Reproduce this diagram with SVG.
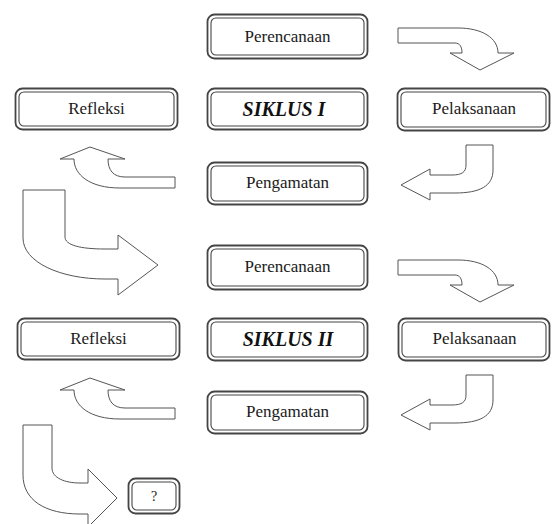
<svg xmlns="http://www.w3.org/2000/svg" width="552" height="524" viewBox="0 0 552 524">
<style>
.bo{fill:#fff;stroke:#454545;stroke-width:1.8}
.bi{fill:none;stroke:#454545;stroke-width:1.1}
.t{font-family:'Liberation Serif','DejaVu Serif',serif;font-size:17px;fill:#1a1a1a;text-anchor:middle}
.s{font-family:'Liberation Serif','DejaVu Serif',serif;font-size:20px;font-weight:bold;font-style:italic;fill:#111;text-anchor:middle}
.a{fill:#fff;stroke:#555;stroke-width:1;stroke-linejoin:miter}
</style>
<rect width="552" height="524" fill="#fff"/>
<g id="connectors">
<path id="a1" class="a" d="M398,28 L458,28 C482,28 498,38 498,53 L514,53 L480,70 L450,53 L462,53 C462,47 460,43 455,43 L398,43 Z"/>
<path id="a2" class="a" d="M466,145 L493,145 L493,170 C493,186 480,193 455,193 L430,193 L430,200 L401,185 L430,169 L430,175 L452,175 C462,175 466,172 466,165 Z"/>
<path id="a3" class="a" d="M90,147 L125,159 L108,159 C108,170 113,177 125,177 L175,177 L175,188 L120,188 C90,188 74,175 74,159 L60,159 Z"/>
<path id="a4" class="a" d="M23,190 L65,190 L65,237 C65,245 80,249 105,249 L118,249 L118,235 L158,265 L118,295 L118,279 L105,279 C60,279 23,262 23,238 Z"/>
<path id="a5" class="a" transform="translate(0,232)" d="M398,28 L458,28 C482,28 498,38 498,53 L514,53 L480,70 L450,53 L462,53 C462,47 460,43 455,43 L398,43 Z"/>
<path id="a6" class="a" transform="translate(0,230)" d="M466,145 L493,145 L493,170 C493,186 480,193 455,193 L430,193 L430,200 L401,185 L430,169 L430,175 L452,175 C462,175 466,172 466,165 Z"/>
<path id="a7" class="a" transform="translate(0,231)" d="M90,147 L125,159 L108,159 C108,170 113,177 125,177 L175,177 L175,188 L120,188 C90,188 74,175 74,159 L60,159 Z"/>
<path id="a8" class="a" d="M23,425 L52,425 L52,468 C52,478 65,483 80,483 L88,483 L88,469 L117,498 L88,527 L88,514 L80,514 C45,514 23,500 23,475 Z"/>
</g>
<g id="perencanaan1">
<rect class="bo" x="207.5" y="14.5" width="160" height="44" rx="7"/>
<rect class="bi" x="211" y="18" width="153" height="37" rx="5"/>
<text class="t" x="287.5" y="42">Perencanaan</text>
</g>
<g id="refleksi1">
<rect class="bo" x="15.5" y="88.5" width="162" height="41" rx="7"/>
<rect class="bi" x="19" y="92" width="155" height="34" rx="5"/>
<text class="t" x="96.5" y="114">Refleksi</text>
</g>
<g id="siklus1">
<rect class="bo" x="207.5" y="88.5" width="160" height="41" rx="7"/>
<rect class="bi" x="211" y="92" width="153" height="34" rx="5"/>
<text class="s" x="284" y="116">SIKLUS I</text>
</g>
<g id="pelaksanaan1">
<rect class="bo" x="397.5" y="88.5" width="152" height="42" rx="7"/>
<rect class="bi" x="401" y="92" width="145" height="35" rx="5"/>
<text class="t" x="474" y="114">Pelaksanaan</text>
</g>
<g id="pengamatan1">
<rect class="bo" x="207.5" y="162.5" width="160" height="42" rx="7"/>
<rect class="bi" x="211" y="166" width="153" height="35" rx="5"/>
<text class="t" x="287.5" y="188">Pengamatan</text>
</g>
<g id="perencanaan2">
<rect class="bo" x="207.5" y="245.5" width="160" height="44" rx="7"/>
<rect class="bi" x="211" y="249" width="153" height="37" rx="5"/>
<text class="t" x="287.5" y="272">Perencanaan</text>
</g>
<g id="refleksi2">
<rect class="bo" x="17.5" y="318.5" width="162" height="41" rx="7"/>
<rect class="bi" x="21" y="322" width="155" height="34" rx="5"/>
<text class="t" x="98.5" y="344">Refleksi</text>
</g>
<g id="siklus2">
<rect class="bo" x="207.5" y="318.5" width="160" height="42" rx="7"/>
<rect class="bi" x="211" y="322" width="153" height="35" rx="5"/>
<text class="s" x="288" y="346">SIKLUS II</text>
</g>
<g id="pelaksanaan2">
<rect class="bo" x="398.5" y="318.5" width="151" height="42" rx="7"/>
<rect class="bi" x="402" y="322" width="144" height="35" rx="5"/>
<text class="t" x="474.5" y="344">Pelaksanaan</text>
</g>
<g id="pengamatan2">
<rect class="bo" x="207.5" y="391.5" width="160" height="42" rx="7"/>
<rect class="bi" x="211" y="395" width="153" height="35" rx="5"/>
<text class="t" x="287.5" y="417">Pengamatan</text>
</g>
<g id="question">
<rect class="bo" x="128.5" y="478.5" width="51" height="35" rx="7"/>
<rect class="bi" x="132" y="482" width="44" height="28" rx="5"/>
<text class="t" x="154" y="501" style="font-size:14px">?</text>
</g>
</svg>
